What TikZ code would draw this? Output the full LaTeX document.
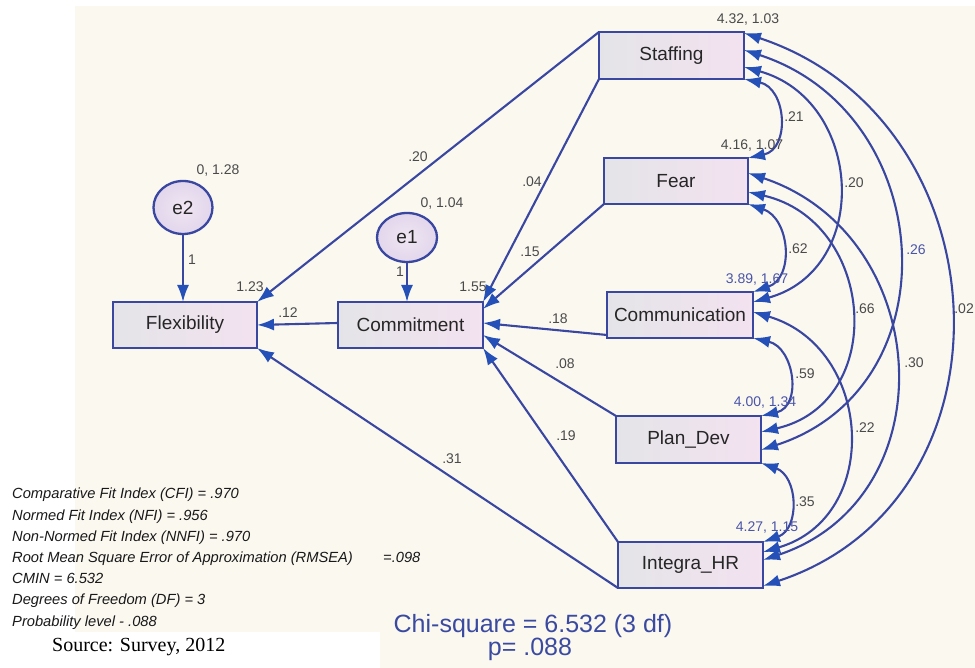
\documentclass[tikz,border=0pt]{standalone}
\usepackage{fontspec}
\usepackage{graphicx}
\setmainfont{Liberation Sans}
\newfontfamily\serifsrc{Liberation Serif}
\usetikzlibrary{arrows.meta,calc,shapes.geometric}
\definecolor{cream}{HTML}{FBF8F0}
\definecolor{lineblue}{HTML}{3A47A0}
\definecolor{headblue}{HTML}{2450B8}
\definecolor{boxL}{HTML}{E4E4E8}
\definecolor{boxR}{HTML}{F3E2F0}
\definecolor{ellA}{HTML}{F0E6F2}
\definecolor{ellB}{HTML}{E2D6EC}
\definecolor{lblgray}{HTML}{4A4A4A}
\definecolor{lblblue}{HTML}{4A55A8}
\definecolor{chiblue}{HTML}{3A4AA0}
\tikzset{
  obs/.style={draw=lineblue, line width=2.3pt, left color=boxL, right color=boxR,
    inner sep=0pt, outer sep=0pt, font=\fontsize{19}{21}\selectfont, text=black!85},
  lat/.style={ellipse, draw=lineblue, line width=2.3pt, inner color=ellA, outer color=ellB,
    inner sep=0pt, outer sep=0pt, font=\fontsize{19}{21}\selectfont, text=black!85},
  reg/.style={draw=lineblue, line width=2.1pt, -{Latex[length=17pt,width=12pt,color=headblue]}},
  corr/.style={draw=lineblue, line width=2.1pt,
    {Latex[length=17pt,width=12pt,color=headblue]}-{Latex[length=17pt,width=12pt,color=headblue]}},
  lbl/.style={font=\fontsize{14}{16}\selectfont, text=lblgray, inner sep=0pt},
  lblb/.style={lbl, text=lblblue},
  fitline/.style={font=\fontsize{14.7}{17}\selectfont\itshape, text=black!90, anchor=base west, inner sep=0pt},
}
\begin{document}
\begin{tikzpicture}[x=1pt,y=1pt]
\useasboundingbox (0,0) rectangle (975,668);
\fill[white] (0,0) rectangle (975,668);
\fill[cream] (75,0) rectangle (975,662);
\fill[white] (0,0) rectangle (380,36);

% observed variables
\node[obs, minimum width=145pt, minimum height=47pt] (staff) at (671.5,612.5) {Staffing};
\node[obs, minimum width=144pt, minimum height=46pt] (fear) at (676,487) {Fear};
\node[obs, minimum width=146pt, minimum height=46pt] (comm) at (680,353) {Communication};
\node[obs, minimum width=145pt, minimum height=47pt] (plan) at (688.5,228.5) {Plan\_Dev};
\node[obs, minimum width=145pt, minimum height=46pt] (integ) at (690.5,103) {Integra\_HR};
\node[obs, minimum width=144pt, minimum height=46pt] (flex) at (185,343) {Flexibility};
\node[obs, minimum width=145pt, minimum height=46pt] (commit) at (410.5,343) {Commitment};
% errors
\node[lat, minimum width=59pt, minimum height=53pt] (e2) at (183,460.5) {e2};
\node[lat, minimum width=60pt, minimum height=49pt] (e1) at (407,430.5) {e1};

% regression paths
\draw[reg] (staff.north west) -- (flex.north east);
\draw[reg] (staff.south west) -- (commit.north east);
\draw[reg] (fear.south west) -- ($(commit.north east)+(0,-7)$);
\draw[reg] ($(comm.south west)+(0,3)$) -- ($(commit.east)+(0,2)$);
\draw[reg] (plan.north west) -- ($(commit.south east)+(0,13)$);
\draw[reg] (integ.north west) -- (commit.south east);
\draw[reg] (integ.south west) -- (flex.south east);
\draw[reg] ($(commit.west)+(0,2)$) -- (flex.east);
\draw[reg] (e2.south) -- (e2.south |- flex.north);
\draw[reg] (e1.south) -- (e1.south |- commit.north);

% correlations
\draw[corr] (staff.south east) .. controls (786.6,579.9) and (790.6,519.1) .. (fear.north east);
\draw[corr] (fear.south east) .. controls (789.9,449.7) and (794.9,390.3) .. (comm.north east);
\draw[corr] (comm.south east) .. controls (794.5,320.4) and (802.5,261.6) .. (plan.north east);
\draw[corr] (plan.south east) .. controls (798.2,191.9) and (800.2,139.1) .. (integ.north east);
\draw[corr] ($(staff.east)+(0,-11.5)$) .. controls (863.2,568.1) and (872.2,398.9) .. ($(comm.east)+(0,13)$);
\draw[corr] ($(fear.east)+(0,-11)$) .. controls (875.7,446.7) and (888.7,265.3) .. ($(plan.east)+(0,7.5)$);
\draw[corr] ($(comm.east)+(0,3)$) .. controls (873,321) and (883,151) .. ($(integ.east)+(0,13)$);
\draw[corr] ($(staff.east)+(0,5.5)$) .. controls (938,555.2) and (955,280.8) .. ($(plan.east)+(0,-10.5)$);
\draw[corr] ($(fear.east)+(0,8)$) .. controls (934.1,433) and (949.1,170) .. ($(integ.east)+(0,5)$);
\draw[corr] ($(staff.east)+(0,22.5)$) .. controls (1005.8,548.7) and (1024.8,168.3) .. ($(integ.east)+(0,-21)$);

% labels
\node[lbl] (v2) at (218,497) {0, 1.28};
\node[lbl] (v1) at (442,464) {0, 1.04};
\node[lbl] (w2) at (192,408) {1};
\node[lbl] (w1) at (400,396) {1};
\node[lbl] (i1) at (250,381) {1.23};
\node[lbl] (i2) at (473,381) {1.55};
\node[lbl] (p1) at (418,511) {.20};
\node[lbl] (p2) at (532,486) {.04};
\node[lbl] (p3) at (530,416) {.15};
\node[lbl] (p4) at (558,349) {.18};
\node[lbl] (p5) at (565,304) {.08};
\node[lbl] (p6) at (566,232) {.19};
\node[lbl] (p7) at (452,209) {.31};
\node[lbl] (p8) at (288,355) {.12};
\node[lbl] (m1) at (748,648) {4.32, 1.03};
\node[lbl] (m2) at (752,522) {4.16, 1.07};
\node[lblb] (m3) at (757,388) {3.89, 1.67};
\node[lblb] (m4) at (765,265) {4.00, 1.34};
\node[lblb] (m5) at (767,140) {4.27, 1.15};
\node[lbl] (c1) at (794,551) {.21};
\node[lbl] (c2) at (798,419) {.62};
\node[lbl] (c3) at (805,294) {.59};
\node[lbl] (c4) at (805,166) {.35};
\node[lbl] (c5) at (854,485) {.20};
\node[lbl] (c6) at (865,359) {.66};
\node[lbl] (c7) at (865,240) {.22};
\node[lblb] (c8) at (916,418) {.26};
\node[lbl] (c9) at (914,305) {.30};
\node[lbl, anchor=east] (c10) at (974,359) {.02};

% fit indices
\node[fitline] (f1) at (12,169) {Comparative Fit Index (CFI) = .970};
\node[fitline] (f2) at (12,147.8) {Normed Fit Index (NFI) = .956};
\node[fitline] (f3) at (12,126.6) {Non-Normed Fit Index (NNFI) = .970};
\node[fitline] (f4) at (12,105.4) {Root Mean Square Error of Approximation (RMSEA)};
\node[fitline] (f4b) at (383,105.4) {=.098};
\node[fitline] (f5) at (12,84.2) {CMIN = 6.532};
\node[fitline] (f6) at (12,63) {Degrees of Freedom (DF) = 3};
\node[fitline] (f7) at (12,41.8) {Probability level - .088};
\node[anchor=base west, inner sep=0pt, font=\serifsrc\fontsize{20}{22}\selectfont] (src) at (52,16) {Source: Survey, 2012};
\node[anchor=base, inner sep=0pt, text=chiblue, font=\fontsize{25}{27}\selectfont] (chi) at (533,35) {Chi-square = 6.532 (3 df)};
\node[anchor=base, inner sep=0pt, text=chiblue, font=\fontsize{25}{27}\selectfont] (pv) at (530,12) {p= .088};
\end{tikzpicture}
\end{document}
